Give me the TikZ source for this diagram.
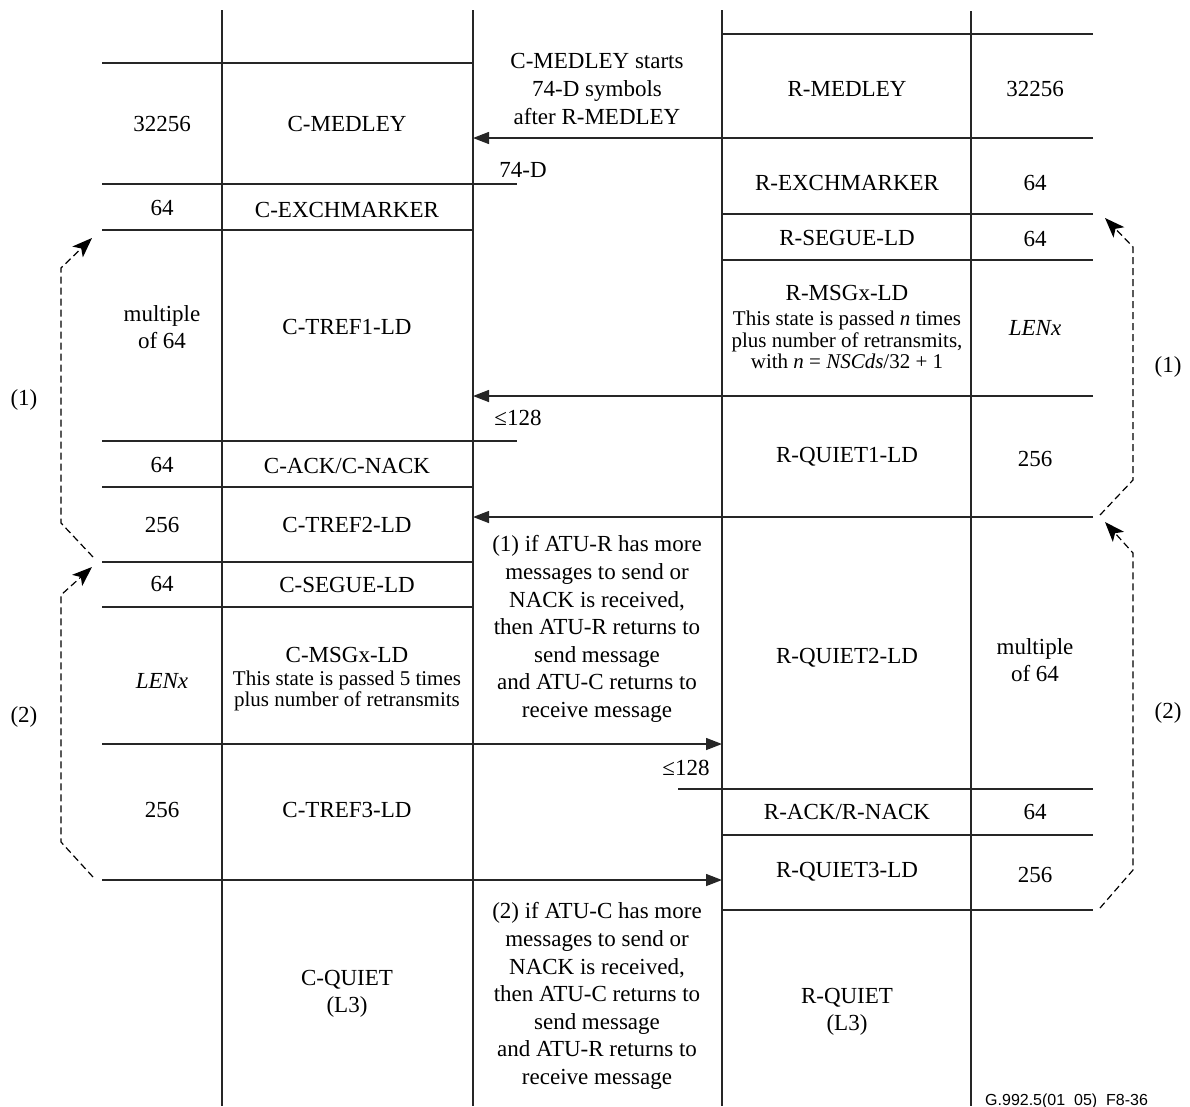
\documentclass[tikz,border=0pt]{standalone}
\usepackage{fontspec}
\setmainfont{Liberation Serif}
\newfontfamily\capfont{Liberation Sans}
\usetikzlibrary{arrows.meta}
\begin{document}
\begin{tikzpicture}[x=1pt,y=-1pt,
  rule/.style={line width=1.4pt, draw=black!85},
  msg/.style={rule,-{Triangle[length=16pt,width=12pt]}},
  loop/.style={line width=1.2pt, dash pattern=on 7pt off 4pt, -{Stealth[length=20pt,width=15pt,inset=5pt]}},
  lbl/.style={font=\fontsize{23}{27.6}\selectfont, inner sep=0pt, align=center},
  sml/.style={font=\fontsize{21}{21.5}\selectfont, inner sep=0pt, align=center},
  figid/.style={font=\capfont\fontsize{16}{18}\selectfont, inner sep=0pt},
]
\useasboundingbox (0,0) rectangle (1190,1106);

% vertical lines
\draw[rule] (222,10) -- (222,1106);
\draw[rule] (473,10) -- (473,1106);
\draw[rule] (722,10) -- (722,1106);
\draw[rule] (971,11) -- (971,1106);

% left horizontal rules
\draw[rule] (102,63) -- (473,63);
\draw[rule] (102,184) -- (517,184);
\draw[rule] (102,230) -- (473,230);
\draw[rule] (102,441) -- (517,441);
\draw[rule] (102,487) -- (473,487);
\draw[rule] (102,562) -- (473,562);
\draw[rule] (102,607) -- (473,607);

% right horizontal rules
\draw[rule] (722,34) -- (1093,34);
\draw[rule] (722,214) -- (1093,214);
\draw[rule] (722,260) -- (1093,260);
\draw[rule] (678,789) -- (1093,789);
\draw[rule] (722,835) -- (1093,835);
\draw[rule] (722,910) -- (1093,910);

% message arrows
\coordinate (rA) at (1093,138); \coordinate (cA) at (473,138);
\coordinate (rB) at (1093,396); \coordinate (cB) at (473,396);
\coordinate (rC) at (1093,517); \coordinate (cC) at (473,517);
\coordinate (cD) at (102,744);  \coordinate (rD) at (722,744);
\coordinate (cE) at (102,880);  \coordinate (rE) at (722,880);
\draw[msg] (rA) -- (cA);
\draw[msg] (rB) -- (cB);
\draw[msg] (rC) -- (cC);
\draw[msg] (cD) -- (rD);
\draw[msg] (cE) -- (rE);

% loop arrows
\coordinate (l1s) at (93,557); \coordinate (l1e) at (92,238);
\coordinate (l2s) at (93,877); \coordinate (l2e) at (92,567);
\coordinate (r1s) at (1100,515); \coordinate (r1e) at (1105,218);
\coordinate (r2s) at (1100,908); \coordinate (r2e) at (1105,522);
\draw[loop] (l1s) -- (61,523) -- (61,268) -- (l1e);
\draw[loop] (l2s) -- (61,842) -- (61,595) -- (l2e);
\draw[loop] (r1s) -- (1133,480) -- (1133,247) -- (r1e);
\draw[loop] (r2s) -- (1133,870) -- (1133,553) -- (r2e);

% loop labels
\node[lbl] (lp1) at (24,400) {(1)};
\node[lbl] (lp2) at (24,717) {(2)};
\node[lbl] (rp1) at (1168,367) {(1)};
\node[lbl] (rp2) at (1168,713) {(2)};

% left duration column
\node[lbl] (cd1) at (162,124) {32256};
\node[lbl] (cd2) at (162,208) {64};
\node[lbl] (cd3) at (162,327) {multiple\\of 64};
\node[lbl] (cd4) at (162,465) {64};
\node[lbl] (cd5) at (162,525) {256};
\node[lbl] (cd6) at (162,584) {64};
\node[lbl] (cd7) at (162,681) {\textit{LENx}};
\node[lbl] (cd8) at (162,810) {256};

% C states
\node[lbl] (cs1) at (347,124) {C-MEDLEY};
\node[lbl] (cs2) at (347,210) {C-EXCHMARKER};
\node[lbl] (cs3) at (347,327) {C-TREF1-LD};
\node[lbl] (cs4) at (347,466) {C-ACK/C-NACK};
\node[lbl] (cs5) at (347,525) {C-TREF2-LD};
\node[lbl] (cs6) at (347,585) {C-SEGUE-LD};
\node[lbl] (cs7) at (347,655) {C-MSGx-LD};
\node[sml] (cs7n) at (347,691) {This state is passed 5 times\\plus number of retransmits};
\node[lbl] (cs8) at (347,810) {C-TREF3-LD};
\node[lbl] (cs9) at (347,994) {C-QUIET\\(L3)};

% middle notes
\node[lbl] (m1) at (597,89) {C-MEDLEY starts\\74-D symbols\\after R-MEDLEY};
\node[lbl] (m2) at (523,170) {74-D};
\node[lbl] (m3) at (518,418) {≤128};
\node[lbl] (m4) at (597,629) {(1) if ATU-R has more\\messages to send or\\NACK is received,\\then ATU-R returns to\\send message\\and ATU-C returns to\\receive message};
\node[lbl] (m5) at (686,768) {≤128};
\node[lbl] (m6) at (597,996) {(2) if ATU-C has more\\messages to send or\\NACK is received,\\then ATU-C returns to\\send message\\and ATU-R returns to\\receive message};

% R states
\node[lbl] (rs1) at (847,89) {R-MEDLEY};
\node[lbl] (rs2) at (847,183) {R-EXCHMARKER};
\node[lbl] (rs3) at (847,238) {R-SEGUE-LD};
\node[lbl] (rs4) at (847,293) {R-MSGx-LD};
\node[sml] (rs4n) at (847,340) {This state is passed \textit{n} times\\plus number of retransmits,\\with \textit{n} = \textit{NSCds}/32 + 1};
\node[lbl] (rs5) at (847,457) {R-QUIET1-LD};
\node[lbl] (rs6) at (847,658) {R-QUIET2-LD};
\node[lbl] (rs7) at (847,812) {R-ACK/R-NACK};
\node[lbl] (rs8) at (847,872) {R-QUIET3-LD};
\node[lbl] (rs9) at (847,1012) {R-QUIET\\(L3)};

% right duration column
\node[lbl] (rd1) at (1035,89) {32256};
\node[lbl] (rd2) at (1035,183) {64};
\node[lbl] (rd3) at (1035,239) {64};
\node[lbl] (rd4) at (1035,328) {\textit{LENx}};
\node[lbl] (rd5) at (1035,459) {256};
\node[lbl] (rd6) at (1035,660) {multiple\\of 64};
\node[lbl] (rd7) at (1035,812) {64};
\node[lbl] (rd8) at (1035,875) {256};

% figure id
\node[figid, anchor=base west] (fid) at (985,1105.5) {G.992.5(01\_05)\_F8-36};
\end{tikzpicture}
\end{document}
